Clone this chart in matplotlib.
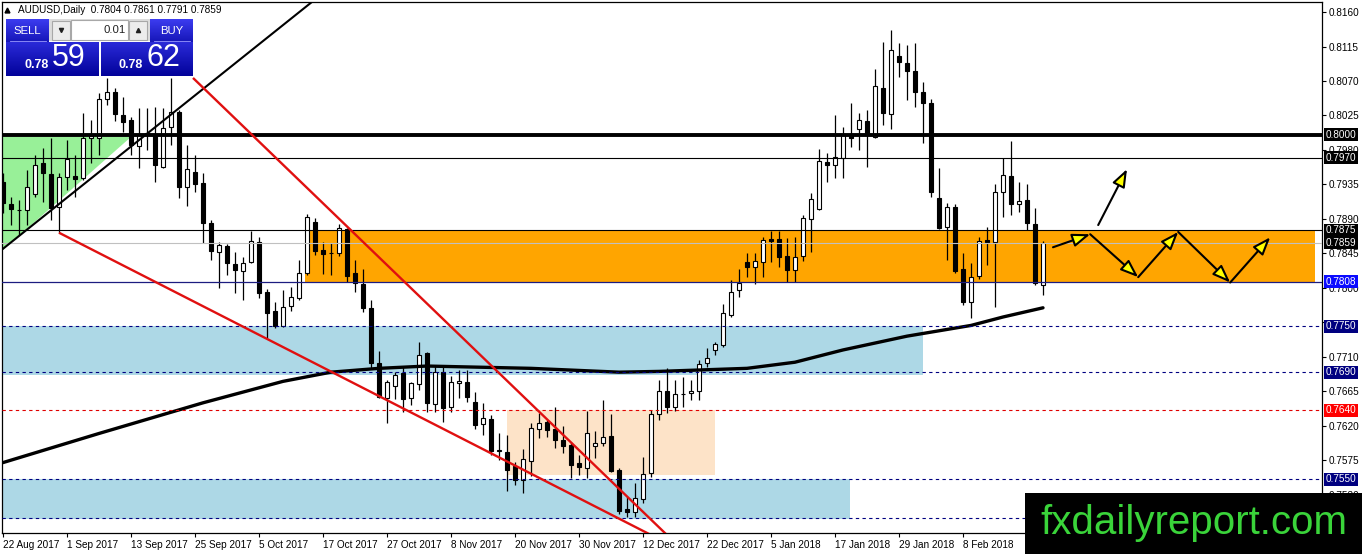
import numpy as np
import matplotlib
matplotlib.use("Agg")
import matplotlib.pyplot as plt
import matplotlib.colors as mcolors
import matplotlib.transforms as mtransforms
from matplotlib.patches import Rectangle, Polygon, FancyArrowPatch

plt.rcParams['font.family'] = ['Liberation Sans', 'DejaVu Sans']

W, H = 1362, 554

# ---------------- data (AUDUSD daily) ----------------
opens = [0.7938, 0.7910, 0.7902, 0.7902, 0.7923, 0.7963, 0.7949, 0.7906, 0.7945, 0.7946,
         0.7943, 0.7996, 0.7996, 0.8047, 0.8056, 0.8026, 0.8019, 0.7985, 0.8002, 0.8000,
         0.7958, 0.8010, 0.8030, 0.7932, 0.7951, 0.7937, 0.7885, 0.7847, 0.7855, 0.7831,
         0.7822, 0.7834, 0.7860, 0.7795, 0.7770, 0.7750, 0.7776, 0.7787, 0.7819, 0.7886,
         0.7850, 0.7846, 0.7846, 0.7877, 0.7820, 0.7805, 0.7774, 0.7702, 0.7656, 0.7672,
         0.7689, 0.7656, 0.7675, 0.7715, 0.7648, 0.7690, 0.7645, 0.7676, 0.7677, 0.7651,
         0.7622, 0.7629, 0.7587, 0.7586, 0.7568, 0.7549, 0.7574, 0.7616, 0.7625, 0.7616,
         0.7602, 0.7595, 0.7571, 0.7565, 0.7593, 0.7597, 0.7607, 0.7562, 0.7511, 0.7507,
         0.7525, 0.7559, 0.7636, 0.7666, 0.7644, 0.7662, 0.7663, 0.7666, 0.7702, 0.7719,
         0.7726, 0.7765, 0.7797, 0.7834, 0.7827, 0.7834, 0.7864, 0.7864, 0.7841, 0.7823,
         0.7841, 0.7890, 0.7903, 0.7964, 0.7961, 0.7970, 0.8000, 0.8008, 0.8018, 0.7997,
         0.8061, 0.8027, 0.8102, 0.8093, 0.8083, 0.8056, 0.8041, 0.7917, 0.7879, 0.7906,
         0.7825, 0.7782, 0.7815, 0.7863, 0.7860, 0.7925, 0.7946, 0.7910, 0.7915, 0.7883,
         0.7804]
highs = [0.7950, 0.7919, 0.7915, 0.7954, 0.7973, 0.7983, 0.7996, 0.7950, 0.7993, 0.7973,
         0.8028, 0.8019, 0.8054, 0.8074, 0.8061, 0.8049, 0.8023, 0.8035, 0.8035, 0.8036,
         0.8035, 0.8074, 0.8032, 0.7987, 0.7973, 0.7950, 0.7889, 0.7860, 0.7857, 0.7847,
         0.7840, 0.7874, 0.7867, 0.7799, 0.7782, 0.7797, 0.7801, 0.7836, 0.7896, 0.7891,
         0.7860, 0.7859, 0.7883, 0.7878, 0.7836, 0.7825, 0.7784, 0.7718, 0.7680, 0.7690,
         0.7697, 0.7677, 0.7729, 0.7716, 0.7698, 0.7697, 0.7685, 0.7693, 0.7693, 0.7664,
         0.7650, 0.7634, 0.7611, 0.7608, 0.7573, 0.7590, 0.7624, 0.7637, 0.7628, 0.7645,
         0.7620, 0.7599, 0.7582, 0.7639, 0.7613, 0.7654, 0.7635, 0.7565, 0.7527, 0.7545,
         0.7579, 0.7641, 0.7680, 0.7696, 0.7680, 0.7684, 0.7680, 0.7706, 0.7721, 0.7729,
         0.7779, 0.7810, 0.7824, 0.7846, 0.7846, 0.7866, 0.7874, 0.7874, 0.7865, 0.7866,
         0.7895, 0.7924, 0.7981, 0.7976, 0.8026, 0.8010, 0.8041, 0.8028, 0.8032, 0.8086,
         0.8121, 0.8137, 0.8120, 0.8117, 0.8120, 0.8069, 0.8047, 0.7956, 0.7911, 0.7910,
         0.7846, 0.7832, 0.7866, 0.7880, 0.7935, 0.7970, 0.7992, 0.7938, 0.7936, 0.7904,
         0.7861]
lows = [0.7898, 0.7882, 0.7869, 0.7882, 0.7919, 0.7912, 0.7889, 0.7872, 0.7928, 0.7919,
        0.7941, 0.7963, 0.7973, 0.8039, 0.8018, 0.8004, 0.7973, 0.7957, 0.7980, 0.7938,
        0.7957, 0.7987, 0.7917, 0.7907, 0.7925, 0.7859, 0.7836, 0.7800, 0.7817, 0.7793,
        0.7784, 0.7832, 0.7787, 0.7735, 0.7748, 0.7749, 0.7770, 0.7784, 0.7817, 0.7843,
        0.7818, 0.7817, 0.7841, 0.7808, 0.7795, 0.7769, 0.7696, 0.7656, 0.7624, 0.7655,
        0.7638, 0.7647, 0.7667, 0.7638, 0.7638, 0.7625, 0.7638, 0.7656, 0.7651, 0.7616,
        0.7608, 0.7582, 0.7575, 0.7535, 0.7543, 0.7532, 0.7555, 0.7604, 0.7606, 0.7591,
        0.7585, 0.7552, 0.7556, 0.7552, 0.7578, 0.7594, 0.7560, 0.7505, 0.7501, 0.7501,
        0.7519, 0.7553, 0.7627, 0.7637, 0.7639, 0.7644, 0.7654, 0.7654, 0.7697, 0.7712,
        0.7723, 0.7762, 0.7788, 0.7814, 0.7805, 0.7814, 0.7834, 0.7827, 0.7808, 0.7808,
        0.7835, 0.7847, 0.7902, 0.7938, 0.7943, 0.7943, 0.7984, 0.7980, 0.7958, 0.7996,
        0.8013, 0.8007, 0.8075, 0.8045, 0.8036, 0.7989, 0.7919, 0.7877, 0.7836, 0.7819,
        0.7778, 0.7761, 0.7811, 0.7830, 0.7775, 0.7893, 0.7895, 0.7899, 0.7876, 0.7804,
        0.7791]
closes = [0.7911, 0.7903, 0.7901, 0.7932, 0.7960, 0.7950, 0.7904, 0.7945, 0.7968, 0.7942,
          0.7996, 0.7998, 0.8047, 0.8056, 0.8027, 0.8017, 0.7987, 0.8000, 0.8001, 0.7960,
          0.8009, 0.8030, 0.7932, 0.7955, 0.7936, 0.7885, 0.7848, 0.7856, 0.7832, 0.7823,
          0.7832, 0.7861, 0.7793, 0.7767, 0.7750, 0.7775, 0.7788, 0.7819, 0.7893, 0.7848,
          0.7844, 0.7845, 0.7878, 0.7816, 0.7806, 0.7774, 0.7702, 0.7658, 0.7677, 0.7686,
          0.7655, 0.7676, 0.7712, 0.7650, 0.7690, 0.7643, 0.7677, 0.7679, 0.7658, 0.7621,
          0.7630, 0.7587, 0.7588, 0.7562, 0.7549, 0.7577, 0.7617, 0.7624, 0.7614, 0.7602,
          0.7593, 0.7569, 0.7566, 0.7611, 0.7597, 0.7606, 0.7561, 0.7509, 0.7507, 0.7526,
          0.7557, 0.7636, 0.7666, 0.7645, 0.7662, 0.7661, 0.7666, 0.7701, 0.7708, 0.7727,
          0.7767, 0.7795, 0.7806, 0.7827, 0.7835, 0.7863, 0.7861, 0.7840, 0.7823, 0.7840,
          0.7891, 0.7916, 0.7966, 0.7961, 0.7971, 0.8000, 0.7996, 0.8019, 0.8002, 0.8063,
          0.8028, 0.8110, 0.8095, 0.8083, 0.8056, 0.8041, 0.7925, 0.7878, 0.7906, 0.7822,
          0.7782, 0.7814, 0.7861, 0.7860, 0.7925, 0.7947, 0.7910, 0.7913, 0.7885, 0.7806,
          0.7859]

date_tick_idx = [0, 8, 16, 24, 32, 40, 48, 56, 64, 72, 80, 88, 96, 104, 112, 120]
date_labels = ["22 Aug 2017", "1 Sep 2017", "13 Sep 2017", "25 Sep 2017", "5 Oct 2017",
               "17 Oct 2017", "27 Oct 2017", "8 Nov 2017", "20 Nov 2017", "30 Nov 2017",
               "12 Dec 2017", "22 Dec 2017", "5 Jan 2018", "17 Jan 2018", "29 Jan 2018",
               "8 Feb 2018"]
price_ticks = [0.7530, 0.7575, 0.7620, 0.7665, 0.7710, 0.7755, 0.7800, 0.7845,
               0.7890, 0.7935, 0.7980, 0.8025, 0.8070, 0.8115, 0.8160]
hidden_tick_labels = [0.7755]   # fully covered by the 0.7750 marker in the reference

# moving average (read at selected bars)
ma_idx = [0, 12, 25, 35, 41, 47, 53, 66, 77, 82, 93, 99, 105, 113, 121, 125, 130]
ma_vals = [0.7572, 0.7610, 0.7650, 0.7678, 0.7690, 0.7695, 0.7698, 0.7695, 0.7690,
           0.7691, 0.7695, 0.7703, 0.7719, 0.7737, 0.7751, 0.7762, 0.7774]

# horizontal levels
solid_levels = [0.7970, 0.7875]
key_level = 0.8000
bid_level = 0.7859
support_level = 0.7808
navy_dashed_levels = [0.7750, 0.7690, 0.7550, 0.7500]
red_dashed_levels = [0.7640]

label_levels = [0.8000, 0.7970, 0.7875, 0.7859, 0.7808, 0.7750, 0.7690, 0.7640, 0.7550]
label_colors = ['#000000', '#000000', '#000000', '#000000', '#0a0aff',
                '#000080', '#000080', '#ff0000', '#000080']

# zones: (bar start, bar end, price low, price high)
zone_orange = (37.7, 164.0, 0.7808, 0.7875)
zone_blue_upper = (-2.0, 115.0, 0.7686, 0.7750)
zone_blue_lower = (-2.0, 105.9, 0.7498, 0.7550)
zone_peach = (63.0, 89.0, 0.7556, 0.7641)
green_triangle_k = [-2.0, 16.0, -2.0]
green_triangle_p = [0.7997, 0.7997, 0.7831]

# trendlines: (bar, price) anchor pairs
black_trend = [(-0.125, 0.7850), (38.0, 0.8168)]
red_upper_trend = [(23.75, 0.8074), (82.75, 0.7480)]
red_lower_trend = [(7.0, 0.7872), (79.6, 0.7485)]

# projected path drawn with arrows
proj_k = [131.25, 135.9, 141.9, 146.9, 153.4, 158.4]
proj_p = [0.7853, 0.7870, 0.7814, 0.7873, 0.7807, 0.7866]
breakout_k = [136.9, 140.5]
breakout_p = [0.7882, 0.7955]

# ---------------- figure ----------------
fig = plt.figure(figsize=(W / 100, H / 100), dpi=100)
fig.patch.set_facecolor('white')
ax = fig.add_axes([2 / W, (H - 533) / H, 1320 / W, 531 / H])
ax.set_facecolor('white')
ax.set_xlim(-0.125, 164.875)
ax.set_ylim(0.74801, 0.81731)

def zone(z, color):
    k0, k1, p0, p1 = z
    ax.add_patch(Rectangle((k0, p0), k1 - k0, p1 - p0, facecolor=color,
                           edgecolor='none', zorder=1))

zone(zone_blue_upper, '#add8e6')
zone(zone_blue_lower, '#add8e6')
zone(zone_peach, '#fde3c8')
zone(zone_orange, '#ffa500')
ax.add_patch(Polygon(list(zip(green_triangle_k, green_triangle_p)), closed=True,
                     facecolor='#98f098', edgecolor='none', zorder=1))

# candles
k = np.arange(len(opens))
o = np.array(opens); c = np.array(closes)
up = c >= o
ax.vlines(k, lows, highs, color='black', lw=0.9, zorder=3)
ax.bar(k, np.abs(c - o), bottom=np.minimum(o, c), width=0.62,
       color=np.where(up, 'white', 'black'), edgecolor='black', linewidth=0.8, zorder=4)

# moving average
ax.plot(ma_idx, ma_vals, color='black', lw=2.4, zorder=5, solid_capstyle='round')

# horizontal lines
ax.axhline(key_level, color='black', lw=2.8, zorder=6)
for lv in solid_levels:
    ax.axhline(lv, color='black', lw=0.8, zorder=6)
ax.axhline(bid_level, color='#c0c0c0', lw=0.8, zorder=6)
ax.axhline(support_level, color='#1c1c80', lw=0.9, zorder=6)
for lv in navy_dashed_levels:
    ax.axhline(lv, color='#000080', lw=0.8, ls=(0, (3, 3)), zorder=6)
for lv in red_dashed_levels:
    ax.axhline(lv, color='#e00000', lw=0.8, ls=(0, (3, 3)), zorder=6)

# trendlines (extended)
def trend(pts, color, lw, ext0=0.0, ext1=0.15):
    (k0, p0), (k1, p1) = pts
    dk, dp = k1 - k0, p1 - p0
    ax.plot([k0 - ext0 * dk, k1 + ext1 * dk], [p0 - ext0 * dp, p1 + ext1 * dp],
            color=color, lw=lw, zorder=7, solid_capstyle='butt')

trend(black_trend, 'black', 1.5, ext0=0.05, ext1=0.1)
trend(red_upper_trend, '#e01010', 1.7, ext1=0.05)
trend(red_lower_trend, '#e01010', 1.7, ext1=0.05)

# projection arrows
def arrow(a, b):
    ax.add_patch(FancyArrowPatch(a, b, arrowstyle='-|>,head_length=1.2,head_width=0.45',
                                 mutation_scale=9, lw=1.5, ec='black', fc='#ffff00',
                                 shrinkA=0, shrinkB=0, zorder=8))

for i in range(len(proj_k) - 1):
    arrow((proj_k[i], proj_p[i]), (proj_k[i + 1], proj_p[i + 1]))
arrow((breakout_k[0], breakout_p[0]), (breakout_k[1], breakout_p[1]))

# axes styling
for s in ax.spines.values():
    s.set_color('black'); s.set_linewidth(0.9)
ax.yaxis.tick_right()
ax.set_yticks(price_ticks)
ax.set_yticklabels(["" if p in hidden_tick_labels else f"{p:.4f}" for p in price_ticks])
ax.tick_params(axis='y', direction='out', length=3, pad=2, labelsize=7.2, colors='black')
ax.set_xticks(date_tick_idx)
ax.set_xticklabels(date_labels)
ax.tick_params(axis='x', direction='out', length=3, pad=2, labelsize=7.2)
for lab in ax.get_xticklabels():
    lab.set_horizontalalignment('left')

blend = mtransforms.blended_transform_factory(ax.transAxes, ax.transData)
for lv, col in zip(label_levels, label_colors):
    ax.text(1.0026, lv, f"{lv:.4f}", transform=blend, ha='left', va='center',
            fontsize=7.2, color='white', zorder=20, clip_on=False,
            bbox=dict(boxstyle='square,pad=0.16', fc=col, ec='none'))

# ---------------- overlay: trade panel, header, watermark ----------------
ov = fig.add_axes([0, 0, 1, 1], zorder=10)
ov.patch.set_alpha(0)
ov.axis('off')

def grad_rect(x0, y0, x1, y1, ctop, cbot):
    g = np.linspace(0, 1, 40)[:, None, None]
    a = np.array(mcolors.to_rgb(ctop))[None, None, :]
    b = np.array(mcolors.to_rgb(cbot))[None, None, :]
    img = a * (1 - g) + b * g
    img = np.repeat(img, 2, axis=1)
    ov.imshow(img, extent=(x0, x1, y1, y0), aspect='auto', interpolation='bilinear', zorder=2)

def prect(x0, y0, x1, y1, fc, ec='none', lw=0.8, z=2):
    ov.add_patch(Rectangle((x0, y0), x1 - x0, y1 - y0, facecolor=fc, edgecolor=ec,
                           linewidth=lw, zorder=z))

# header
ov.plot([7], [9.5], marker='^', ms=3.5, color='black', zorder=3)
ov.text(18, 10, "AUDUSD,Daily  0.7804 0.7861 0.7791 0.7859", fontsize=7.2,
        color='black', va='center', ha='left', zorder=3)

# buttons
grad_rect(6, 19, 49, 42, '#3c3cf0', '#1616b8')
grad_rect(150, 19, 193, 42, '#3c3cf0', '#1616b8')
ov.plot([10, 46], [41, 41], color='#9a9aff', lw=0.6, zorder=3)
ov.plot([154, 190], [41, 41], color='#9a9aff', lw=0.6, zorder=3)
ov.text(27.5, 30.5, "SELL", color='white', fontsize=8.2, ha='center', va='center', zorder=3)
ov.text(171.5, 30.5, "BUY", color='white', fontsize=8.2, ha='center', va='center', zorder=3)
prect(49, 19, 150, 41, '#dcdcdc')
prect(52, 21, 70, 40, '#ececec', '#a8a8a8')
prect(71, 20, 128, 40, 'white', '#a8a8a8')
prect(129, 21, 147, 40, '#ececec', '#a8a8a8')
ov.plot([61], [29.5], marker='v', ms=3, color='#202020', zorder=3)
ov.plot([138], [29.5], marker='^', ms=3, color='#202020', zorder=3)
ov.text(126, 30, "0.01", color='#202020', fontsize=8.2, ha='right', va='center', zorder=3)

# price boxes
grad_rect(6, 42, 99, 76, '#2a2ad8', '#02029a')
grad_rect(101, 42, 193, 76, '#2a2ad8', '#02029a')
ov.text(37, 65, "0.78", color='white', fontsize=9, fontweight='bold', ha='center',
        va='center', zorder=3)
ov.text(69, 58.5, "59", color='white', fontsize=22, ha='center', va='center', zorder=3)
ov.text(131, 65, "0.78", color='white', fontsize=9, fontweight='bold', ha='center',
        va='center', zorder=3)
ov.text(163, 58.5, "62", color='white', fontsize=22, ha='center', va='center', zorder=3)

# watermark
prect(1025, 493, W, H, 'black', z=5)
ov.text(1040, 534, "fxdailyreport.com", color='#3ad43a', fontsize=29, ha='left',
        va='baseline', zorder=6)

ov.set_xlim(0, W)
ov.set_ylim(H, 0)

fig.savefig("out.png", dpi=100)
